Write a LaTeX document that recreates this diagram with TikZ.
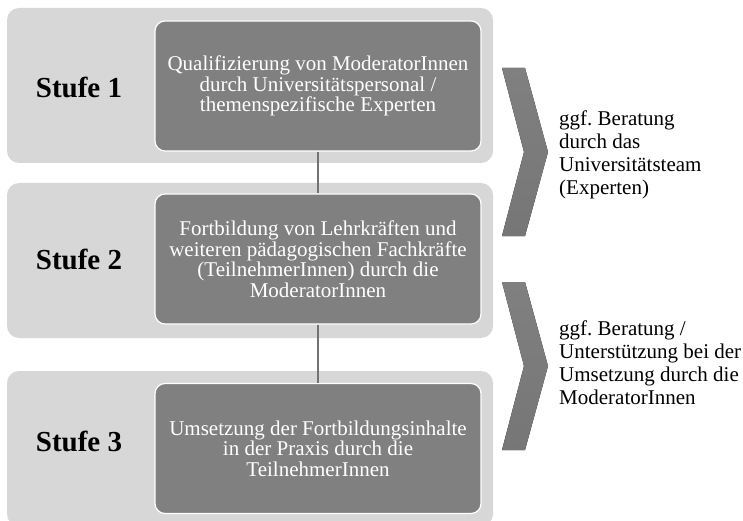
\documentclass[tikz,border=0pt]{standalone}
\usepackage{fontspec}
\setmainfont{Liberation Serif}
\usetikzlibrary{positioning}
\definecolor{stufebg}{RGB}{215,215,215}
\definecolor{stufebox}{RGB}{128,128,128}
\definecolor{verbgray}{RGB}{115,115,115}
\definecolor{pfeiloben}{RGB}{128,128,128}
\definecolor{pfeilunten}{RGB}{118,118,118}
\frenchspacing
\tikzset{
  stufe/.style={rectangle, rounded corners=12pt, fill=stufebg, minimum width=486pt, minimum height=155pt, inner sep=0pt},
  inhalt/.style={rectangle, rounded corners=10pt, draw=white, line width=1.2pt, fill=stufebox, text=white, align=center, minimum width=326pt, minimum height=130pt, inner sep=0pt, font=\fontsize{21}{20.5}\selectfont},
  titel/.style={font=\fontsize{29}{32}\selectfont\bfseries},
  hinweis/.style={align=left, anchor=west, inner sep=0pt, font=\fontsize{21}{23}\selectfont},
  verbinder/.style={draw=verbgray, line width=1.5pt},
  pfeil/.style={top color=pfeiloben, bottom color=pfeilunten, draw=none},
}

\begin{document}
\begin{tikzpicture}[x=1pt,y=-1pt]
\useasboundingbox (0,0) rectangle (743,521);
\node[stufe] (bg1) at (250,85.5) {};
\node[stufe] (bg2) at (250,260.5) {};
\node[stufe] (bg3) at (250,448.5) {};
\node[titel] (st1) at (79,87) {Stufe 1};
\node[titel] (st2) at (79,259) {Stufe 2};
\node[titel] (st3) at (79,441) {Stufe 3};
\node[inhalt] (in1) at (318,86) {Qualifizierung von ModeratorInnen\\durch Universitätspersonal /\\themenspezifische Experten};
\node[inhalt] (in2) at (318,259) {Fortbildung von Lehrkräften und\\weiteren pädagogischen Fachkräfte\\(TeilnehmerInnen) durch die\\ModeratorInnen};
\node[inhalt] (in3) at (318,448.5) {Umsetzung der Fortbildungsinhalte\\in der Praxis durch die\\TeilnehmerInnen};
\draw[verbinder] (in1.south) -- (in2.north);
\draw[verbinder] (in2.south) -- (in3.north);
\fill[pfeil] (502,68) -- (525,68) -- (548,152) -- (525,236) -- (502,236) -- (524,152) -- cycle;
\fill[pfeil] (502,282) -- (525,282) -- (548,366) -- (525,450) -- (502,450) -- (524,366) -- cycle;
\node[hinweis] (hw1) at (559,155) {ggf. Beratung\\durch das\\Universitätsteam\\(Experten)};
\node[hinweis] (hw2) at (559,363) {ggf. Beratung /\\Unterstützung bei der\\Umsetzung durch die\\ModeratorInnen};
\end{tikzpicture}
\end{document}
